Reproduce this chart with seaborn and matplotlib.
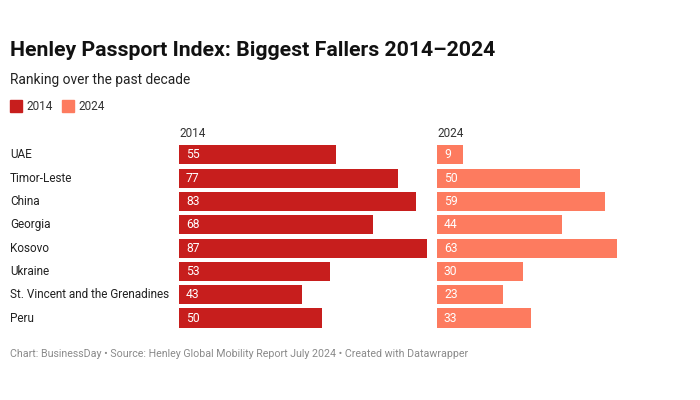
import matplotlib
matplotlib.use("Agg")
import matplotlib.pyplot as plt
import seaborn as sns
import pandas as pd

countries = ["UAE", "Timor-Leste", "China", "Georgia", "Kosovo", "Ukraine",
             "St. Vincent and the Grenadines", "Peru"]
rank_2014 = [55, 77, 83, 68, 87, 53, 43, 50]
rank_2024 = [9, 50, 59, 44, 63, 30, 23, 33]
years = ["2014", "2024"]
colors = ["#c71e1d", "#fd7b5f"]

sns.set_theme(style="white")
plt.rcParams["font.family"] = ["Roboto", "DejaVu Sans"]

df = pd.DataFrame({"country": countries, "2014": rank_2014, "2024": rank_2024})

fig = plt.figure(figsize=(7, 4), dpi=100)
fig.patch.set_facecolor("white")

vmax = max(max(rank_2014), max(rank_2024))
bottom, height = 0.1757, 0.4665
lefts = [179 / 700, 437 / 700]
width = 248 / 700

axes = []
for i, (yr, col) in enumerate(zip(years, colors)):
    ax = fig.add_axes([lefts[i], bottom, width, height])
    sns.barplot(data=df, x=yr, y="country", color=col, width=0.82, ax=ax,
                saturation=1, orient="h", linewidth=0)
    ax.set_xlim(0, vmax)
    ax.set_ylim(len(countries) - 0.5, -0.5)
    ax.set_xlabel("")
    ax.set_ylabel("")
    ax.set_xticks([])
    for s in ax.spines.values():
        s.set_visible(False)
    if i == 0:
        ax.set_yticks(range(len(countries)))
        ax.set_yticklabels([])
    else:
        ax.set_yticks([])
    vals = df[yr].tolist()
    for j, v in enumerate(vals):
        ax.annotate(str(v), xy=(0, j), xytext=(5, 0), textcoords="offset points",
                    va="center", ha="left", color="white", fontsize=8.7)
    ax.text(0, -0.62, yr, transform=ax.transData, ha="left", va="bottom",
            fontsize=8.5, color="#333333")
    axes.append(ax)

# country labels at left
ax0 = axes[0]
for j, c in enumerate(countries):
    ax0.annotate(c, xy=(0, j), xycoords=("figure fraction", "data"),
                 xytext=(10 * 0.72, 0), textcoords="offset points",
                 va="center", ha="left", fontsize=8.5, color="#222222")

fig.text(10 / 700, 1 - 50 / 400, "Henley Passport Index: Biggest Fallers 2014\u20132024",
         fontsize=15.3, fontweight="bold", color="#111111", va="center", ha="left")
fig.text(10 / 700, 1 - 80 / 400, "Ranking over the past decade",
         fontsize=9.9, color="#222222", va="center", ha="left")

# legend
lx = 10
for yr, col in zip(years, colors):
    fig.patches.append(plt.Rectangle((lx / 700, 1 - 112 / 400), 12 / 700, 12 / 400,
                                     transform=fig.transFigure, color=col))
    fig.text((lx + 16) / 700, 1 - 106 / 400, yr, fontsize=8.5, color="#333333",
             va="center", ha="left")
    lx += 52

fig.text(10 / 700, 1 - 354 / 400,
         "Chart: BusinessDay \u2022 Source: Henley Global Mobility Report July 2024 \u2022 Created with Datawrapper",
         fontsize=7.7, color="#8a8a8a", va="center", ha="left")

fig.savefig("out.png", dpi=100, facecolor="white")
